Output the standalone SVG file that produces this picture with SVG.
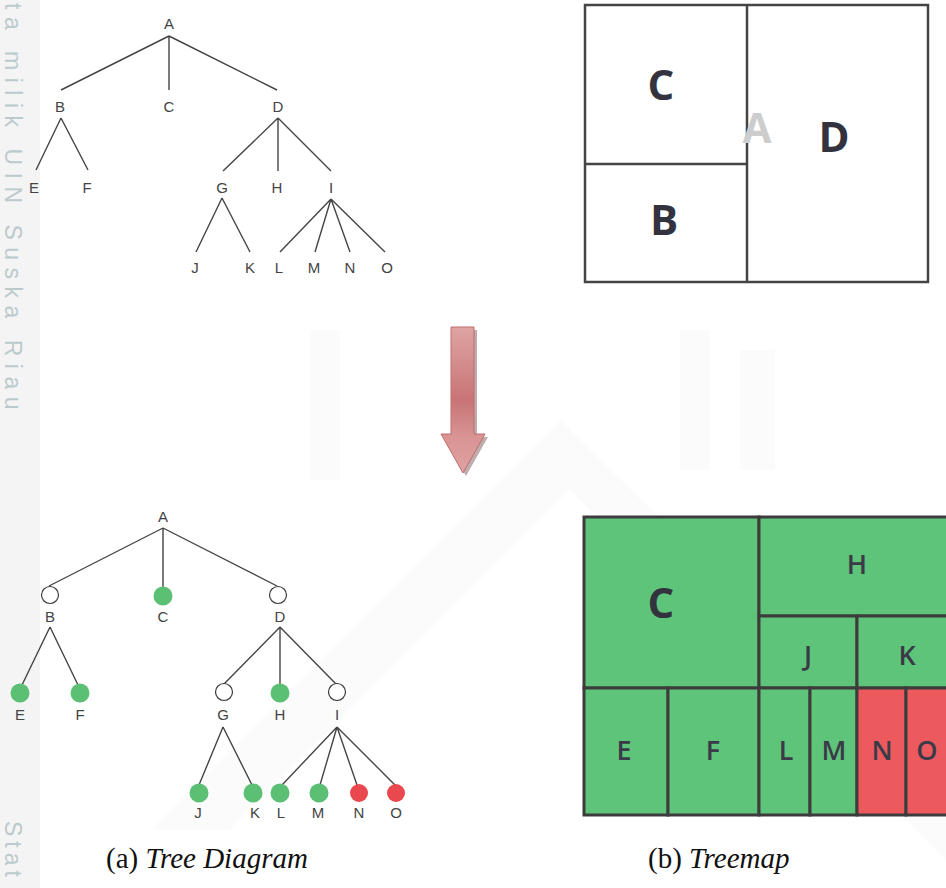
<svg xmlns="http://www.w3.org/2000/svg" width="946" height="888" viewBox="0 0 946 888">
  <defs>
    <style>
      .lbl { font-family: "Liberation Sans", Arial, sans-serif; font-size: 15px; fill: #444; text-anchor: middle; }
      .edge { stroke: #454545; stroke-width: 1.4; fill: none; }
      .open { fill: #ffffff; stroke: #3a3a3a; stroke-width: 1.2; }
      .leaf { fill: #5bbf74; }
      .bad { fill: #e9484e; }
      .cell { stroke: #3c3c3c; stroke-width: 3; }
      .g { fill: #5ec47a; }
      .r { fill: #ec5a5e; }
      .big { font-family: "Open Sans", "Noto Sans", sans-serif; font-weight: 700; font-size: 42px; fill: #333340; text-anchor: middle; }
      .mid { font-family: "Open Sans", "Noto Sans", sans-serif; font-weight: 600; font-size: 27px; fill: #3a3a48; text-anchor: middle; }
      .cap { font-family: "Liberation Serif", "Times New Roman", serif; font-size: 29px; fill: #111; }
      .mark { font-family: "Liberation Sans", Arial, sans-serif; font-size: 23px; fill: #bccacc; }
      .wm { fill: #fbfbfb; }
    </style>
    <linearGradient id="arrowFill" x1="0" y1="0" x2="0" y2="1">
      <stop offset="0" stop-color="#dfa4a4"/>
      <stop offset="0.5" stop-color="#c87474"/>
      <stop offset="0.75" stop-color="#d99494"/>
      <stop offset="1" stop-color="#dea2a2"/>
    </linearGradient>
  </defs>

  <rect width="946" height="888" fill="#ffffff"/>

  <!-- faint background emblem -->
  <g id="emblem">
    <rect x="0" y="0" width="40" height="888" fill="#f4f4f4"/>
    <polygon class="wm" points="150,830 560,420 600,460 230,830"/>
    <polygon class="wm" points="560,420 946,800 946,860 560,480"/>
    <rect class="wm" x="310" y="330" width="30" height="150"/>
    <rect class="wm" x="680" y="330" width="30" height="140"/>
    <rect class="wm" x="740" y="350" width="35" height="120"/>
  </g>

  <!-- margin stamp text -->
  <g id="margin-text">
    <text class="mark" letter-spacing="7.5" transform="translate(5,3) rotate(90)">ta milik UIN Suska Riau</text>
    <text class="mark" letter-spacing="5" transform="translate(5,821) rotate(90)">Stat</text>
  </g>

  <!-- (a) upper tree: connectors -->
  <g id="tree1-edges" class="edge">
    <path d="M169,36 L61,90 M169,36 L169,90 M169,36 L277,90"/>
    <path d="M61,118 L36,170 M61,118 L88,170"/>
    <path d="M278,118 L223,171 M278,118 L278,171 M278,118 L331,171"/>
    <path d="M222,198 L196,252 M222,198 L250,252"/>
    <path d="M331,199 L280,252 M331,199 L315,252 M331,199 L350,252 M331,199 L385,252"/>
  </g>
  <g id="tree1-nodes">
    <g id="t1-A"><text class="lbl" x="169" y="29">A</text></g>
    <g id="t1-B"><text class="lbl" x="60" y="112">B</text></g>
    <g id="t1-C"><text class="lbl" x="169" y="112">C</text></g>
    <g id="t1-D"><text class="lbl" x="278" y="112">D</text></g>
    <g id="t1-E"><text class="lbl" x="34" y="193">E</text></g>
    <g id="t1-F"><text class="lbl" x="87" y="193">F</text></g>
    <g id="t1-G"><text class="lbl" x="222" y="193">G</text></g>
    <g id="t1-H"><text class="lbl" x="277" y="193">H</text></g>
    <g id="t1-I"><text class="lbl" x="331" y="193">I</text></g>
    <g id="t1-J"><text class="lbl" x="195" y="273">J</text></g>
    <g id="t1-K"><text class="lbl" x="250" y="273">K</text></g>
    <g id="t1-L"><text class="lbl" x="279" y="273">L</text></g>
    <g id="t1-M"><text class="lbl" x="314" y="273">M</text></g>
    <g id="t1-N"><text class="lbl" x="350" y="273">N</text></g>
    <g id="t1-O"><text class="lbl" x="387" y="273">O</text></g>
  </g>

  <!-- upper treemap -->
  <g id="treemap1">
    <rect x="585" y="5" width="343" height="277" fill="#ffffff" fill-opacity="0.6" stroke="#444" stroke-width="2.5"/>
    <line x1="747" y1="5" x2="747" y2="282" stroke="#444" stroke-width="2.5"/>
    <line x1="585" y1="164" x2="747" y2="164" stroke="#444" stroke-width="2.5"/>
    <text class="big" x="757" y="143" style="fill:#cdcdcd">A</text>
    <text class="big" x="661" y="100">C</text>
    <text class="big" x="834" y="152">D</text>
    <text class="big" x="664" y="235">B</text>
  </g>

  <!-- transformation arrow -->
  <g id="arrow">
    <polygon points="454,330 477,330 477,437 488,437 466,476 444,437 454,437" fill="#8a6a6a" opacity="0.55"/>
    <polygon points="451,327 474,327 474,434 485,434 463,473 441,434 451,434" fill="url(#arrowFill)" stroke="#c06c6c" stroke-width="1"/>
  </g>

  <!-- (a) lower tree: connectors -->
  <g id="tree2-edges" class="edge">
    <path d="M163,528 L49,586 M163,528 L163,587 M163,528 L277,586"/>
    <path d="M50,627 L22,685 M50,627 L78,685"/>
    <path d="M280,627 L224,684 M280,627 L280,684 M280,627 L336,684"/>
    <path d="M223,727 L199,785 M223,727 L252,785"/>
    <path d="M337,727 L282,785 M337,727 L320,785 M337,727 L357,785 M337,727 L395,785"/>
  </g>
  <g id="tree2-nodes">
    <g id="t2-A"><text class="lbl" x="163" y="522">A</text></g>
    <g id="t2-B"><circle class="open" cx="50" cy="595" r="8.5"/><text class="lbl" x="50" y="622">B</text></g>
    <g id="t2-C"><circle class="leaf" cx="163" cy="596" r="9.5"/><text class="lbl" x="163" y="622">C</text></g>
    <g id="t2-D"><circle class="open" cx="278" cy="595" r="8.5"/><text class="lbl" x="280" y="622">D</text></g>
    <g id="t2-E"><circle class="leaf" cx="20" cy="693" r="9.5"/><text class="lbl" x="20" y="720">E</text></g>
    <g id="t2-F"><circle class="leaf" cx="80" cy="693" r="9.5"/><text class="lbl" x="80" y="720">F</text></g>
    <g id="t2-G"><circle class="open" cx="224" cy="692" r="8.5"/><text class="lbl" x="223" y="720">G</text></g>
    <g id="t2-H"><circle class="leaf" cx="280" cy="693" r="9.5"/><text class="lbl" x="280" y="720">H</text></g>
    <g id="t2-I"><circle class="open" cx="337" cy="692" r="8.5"/><text class="lbl" x="337" y="720">I</text></g>
    <g id="t2-J"><circle class="leaf" cx="199" cy="793" r="9.5"/><text class="lbl" x="198" y="818">J</text></g>
    <g id="t2-K"><circle class="leaf" cx="253" cy="793" r="9.5"/><text class="lbl" x="255" y="818">K</text></g>
    <g id="t2-L"><circle class="leaf" cx="280" cy="793" r="9.5"/><text class="lbl" x="281" y="818">L</text></g>
    <g id="t2-M"><circle class="leaf" cx="319" cy="793" r="9.5"/><text class="lbl" x="318" y="818">M</text></g>
    <g id="t2-N"><circle class="bad" cx="359" cy="793" r="9"/><text class="lbl" x="359" y="818">N</text></g>
    <g id="t2-O"><circle class="bad" cx="396" cy="793" r="9"/><text class="lbl" x="396" y="818">O</text></g>
  </g>

  <!-- lower treemap -->
  <g id="treemap2">
    <g id="cell-C"><rect class="cell g" x="584" y="517" width="175" height="171"/><text class="big" x="661" y="618">C</text></g>
    <g id="cell-H"><rect class="cell g" x="759" y="517" width="200" height="99"/><text class="mid" x="857" y="574">H</text></g>
    <g id="cell-J"><rect class="cell g" x="759" y="616" width="98" height="72"/><text class="mid" x="808" y="665">J</text></g>
    <g id="cell-K"><rect class="cell g" x="857" y="616" width="102" height="72"/><text class="mid" x="907" y="665">K</text></g>
    <g id="cell-E"><rect class="cell g" x="584" y="688" width="84" height="127"/><text class="mid" x="624" y="760">E</text></g>
    <g id="cell-F"><rect class="cell g" x="668" y="688" width="91" height="127"/><text class="mid" x="713" y="760">F</text></g>
    <g id="cell-L"><rect class="cell g" x="759" y="688" width="51" height="127"/><text class="mid" x="786" y="760">L</text></g>
    <g id="cell-M"><rect class="cell g" x="810" y="688" width="47" height="127"/><text class="mid" x="834" y="760">M</text></g>
    <g id="cell-N"><rect class="cell r" x="857" y="688" width="49" height="127"/><text class="mid" x="882" y="760">N</text></g>
    <g id="cell-O"><rect class="cell r" x="906" y="688" width="53" height="127"/><text class="mid" x="927" y="760">O</text></g>
  </g>

  <!-- captions -->
  <g id="captions">
    <text class="cap" x="106" y="868">(a) <tspan font-style="italic">Tree Diagram</tspan></text>
    <text class="cap" x="648" y="868">(b) <tspan font-style="italic">Treemap</tspan></text>
  </g>
</svg>
